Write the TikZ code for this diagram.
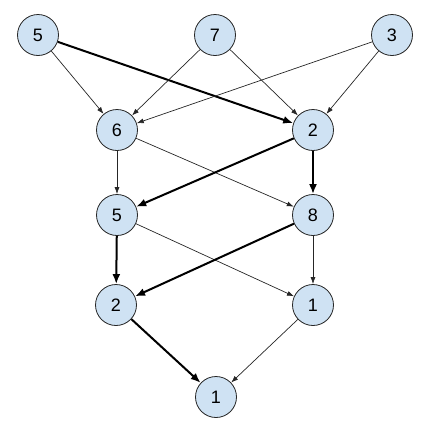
\documentclass[tikz,border=0pt]{standalone}
\usepackage{fontspec}
\setmainfont{Liberation Sans}
\usetikzlibrary{arrows.meta}
\definecolor{nodefill}{HTML}{CFE2F3}
\begin{document}
\begin{tikzpicture}[x=1pt,y=-1pt,
  vertex/.style={circle,draw=black!85,line width=0.8pt,fill=nodefill,minimum size=41pt,inner sep=0pt,font=\fontsize{18}{18}\selectfont},
  thin edge/.style={draw=black!85,line width=0.7pt,-{Latex[length=7pt,width=5pt]}},
  thick edge/.style={draw=black,line width=2pt,-{Latex[length=10pt,width=8pt]}}]
\useasboundingbox (0,0) rectangle (432,432);
\node[vertex] (a) at (38,35) {5};
\node[vertex] (b) at (215,35) {7};
\node[vertex] (c) at (392,35) {3};
\node[vertex] (d) at (117,130) {6};
\node[vertex] (e) at (313,130) {2};
\node[vertex] (f) at (117,215) {5};
\node[vertex] (g) at (313,215) {8};
\node[vertex] (h) at (116,305) {2};
\node[vertex] (i) at (313,305) {1};
\node[vertex] (j) at (216,397) {1};
\draw[thin edge] (a) -- (d);
\draw[thick edge] (a) -- (e);
\draw[thin edge] (b) -- (d);
\draw[thin edge] (b) -- (e);
\draw[thin edge] (c) -- (d);
\draw[thin edge] (c) -- (e);
\draw[thin edge] (d) -- (f);
\draw[thin edge] (d) -- (g);
\draw[thick edge] (e) -- (f);
\draw[thick edge] (e) -- (g);
\draw[thick edge] (f) -- (h);
\draw[thin edge] (f) -- (i);
\draw[thick edge] (g) -- (h);
\draw[thin edge] (g) -- (i);
\draw[thick edge] (h) -- (j);
\draw[thin edge] (i) -- (j);
\end{tikzpicture}
\end{document}
